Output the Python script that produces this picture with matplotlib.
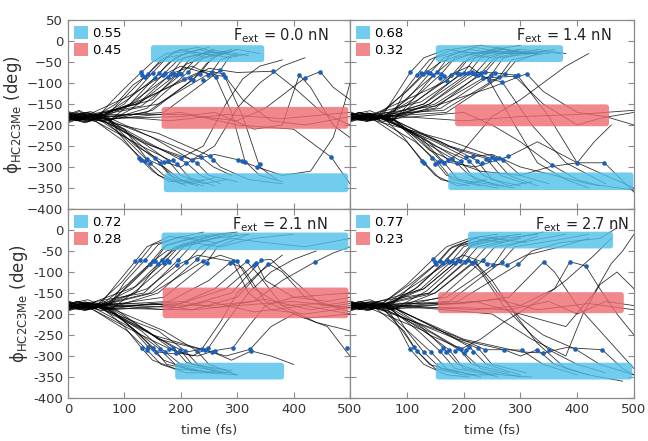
import matplotlib
matplotlib.use('Agg')
import matplotlib.pyplot as plt
from matplotlib.patches import FancyBboxPatch, Patch

# panel labels and basin populations
forces = ['0.0', '1.4', '2.1', '2.7']
frac_blue = [0.55, 0.68, 0.72, 0.77]
frac_red = [0.45, 0.32, 0.28, 0.23]

# shaded windows (t start, t end, phi low, phi high): upper blue, red, lower blue
bars_f00 = [(147, 348, -50, -10), (166, 497, -209, -157), (170, 497, -360, -315)]
bars_f14 = [(151, 375, -50, -10), (185, 456, -203, -151), (173, 499, -355, -313)]
bars_f21 = [(166, 497, -48, -6), (168, 497, -210, -137), (190, 383, -356, -316)]
bars_f27 = [(208, 463, -44, -4), (155, 482, -198, -148), (151, 497, -356, -316)]

# trajectories, each a flat list t0, phi0, t1, phi1, ...
f00_lines = [
    [0, -172, 30, -186, 60, -170, 80, -140, 110, -100, 129, -76, 150, -50, 175, -30, 210, -25, 245, -40],
    [0, -185, 20, -172, 45, -182, 85, -150, 115, -105, 137, -85, 160, -55, 190, -25, 230, -15, 270, -30],
    [0, -178, 40, -190, 75, -168, 100, -135, 142, -78, 165, -45, 200, -20, 240, -30, 280, -25],
    [0, -192, 15, -178, 50, -190, 100, -150, 150, -76, 175, -40, 210, -30, 250, -15],
    [0, -168, 35, -180, 65, -175, 105, -140, 154, -88, 180, -50, 215, -25, 260, -35, 300, -20],
    [0, -183, 30, -195, 60, -178, 110, -150, 162, -76, 190, -40, 230, -20, 265, -30],
    [0, -175, 20, -165, 45, -185, 120, -145, 172, -76, 195, -45, 240, -30, 290, -40],
    [0, -188, 40, -175, 75, -190, 115, -160, 183, -78, 205, -40, 250, -25, 300, -35],
    [0, -180, 15, -190, 50, -172, 125, -150, 192, -80, 215, -45, 255, -20, 285, -30],
    [0, -170, 35, -183, 65, -170, 130, -155, 201, -79, 225, -45, 260, -20],
    [0, -195, 30, -180, 60, -192, 140, -160, 213, -74, 240, -40, 280, -30],
    [0, -177, 20, -168, 45, -185, 140, -170, 222, -92, 245, -55, 275, -25, 320, -35],
    [0, -186, 40, -176, 75, -188, 150, -165, 234, -78, 255, -40, 300, -20, 340, -30],
    [0, -173, 15, -190, 50, -178, 160, -150, 255, -74, 270, -45, 300, -30],
    [0, -182, 35, -170, 65, -180, 170, -170, 270, -70, 285, -40, 320, -30],
    [0, -179, 30, -188, 60, -172, 150, -140, 196, -76, 210, -55, 250, -35, 290, -20],
    [0, -176, 20, -185, 45, -170, 110, -130, 168, -82, 200, -60, 240, -75, 278, -85, 310, -180, 340, -300, 370, -330],
    [0, -190, 40, -178, 75, -188, 120, -140, 187, -76, 220, -60, 262, -86, 290, -170, 314, -287, 340, -320, 380, -335],
    [0, -171, 15, -182, 50, -176, 120, -150, 206, -90, 240, -70, 275, -78, 310, -140, 360, -190, 420, -200, 500, -180],
    [0, -184, 35, -193, 65, -180, 130, -140, 216, -88, 250, -65, 300, -75, 364, -72, 400, -110, 450, -170, 500, -200],
    [0, -180, 30, -170, 60, -185, 200, -180, 260, -170, 330, -210, 380, -200, 410, -81, 430, -110, 470, -200, 500, -230],
    [0, -175, 20, -188, 45, -175, 200, -175, 300, -190, 350, -160, 420, -88, 447, -73, 470, -110, 500, -140],
    [0, -180, 40, -168, 75, -185, 90, -220, 126, -278, 150, -310, 180, -335, 220, -330],
    [0, -188, 15, -178, 50, -192, 95, -235, 136, -286, 160, -320, 200, -340, 240, -330],
    [0, -170, 35, -185, 65, -190, 100, -230, 145, -290, 170, -320, 210, -345],
    [0, -183, 30, -193, 60, -180, 110, -225, 155, -279, 180, -320, 220, -340, 260, -325],
    [0, -176, 20, -186, 45, -178, 115, -240, 163, -290, 190, -330, 230, -345],
    [0, -192, 40, -180, 75, -190, 120, -230, 178, -285, 200, -320, 240, -340, 280, -330],
    [0, -172, 15, -180, 50, -192, 130, -250, 193, -292, 215, -325, 260, -345],
    [0, -186, 35, -172, 65, -183, 140, -240, 210, -290, 235, -320, 270, -340],
    [0, -179, 30, -190, 60, -175, 150, -230, 228, -290, 250, -320, 300, -335],
    [0, -174, 20, -183, 45, -186, 160, -220, 252, -274, 270, -300, 320, -330, 380, -340],
    [0, -189, 40, -176, 75, -190, 170, -240, 236, -277, 258, -300, 290, -320],
    [0, -181, 15, -171, 50, -186, 100, -210, 140, -281, 170, -300, 200, -330, 240, -345],
    [0, -177, 35, -190, 65, -180, 120, -250, 170, -288, 200, -300, 260, -250, 300, -160, 340, -100, 380, -60, 420, -40],
    [0, -185, 30, -175, 60, -188, 130, -240, 201, -278, 240, -250, 280, -150, 310, -90, 340, -60, 380, -45],
    [0, -175, 20, -190, 45, -178, 150, -250, 220, -283, 260, -270, 302, -283, 335, -300, 380, -320, 430, -310, 470, -230, 490, -150, 500, -100],
    [0, -183, 40, -173, 75, -186, 200, -170, 300, -200, 400, -210, 467, -277, 500, -340],
    [0, -178, 15, -188, 50, -176, 180, -190, 280, -175, 380, -185, 500, -170],
]

f14_lines = [
    [0, -178, 30, -190, 60, -172, 80, -130, 106, -75, 130, -40, 170, -20, 220, -30, 260, -25],
    [0, -185, 20, -172, 45, -186, 90, -130, 118, -80, 140, -45, 180, -20, 230, -10, 290, -25],
    [0, -172, 40, -186, 75, -176, 95, -125, 129, -78, 150, -40, 190, -25, 240, -30, 300, -20],
    [0, -190, 15, -178, 50, -188, 100, -140, 141, -76, 165, -40, 210, -20, 260, -30, 330, -30],
    [0, -176, 35, -166, 65, -182, 105, -130, 153, -75, 175, -35, 220, -15, 280, -30, 340, -25],
    [0, -182, 30, -192, 60, -178, 110, -140, 161, -78, 185, -40, 235, -25, 300, -10],
    [0, -168, 20, -180, 45, -172, 115, -130, 170, -95, 200, -50, 250, -25, 320, -30, 360, -20],
    [0, -187, 40, -175, 75, -190, 120, -140, 188, -76, 210, -40, 260, -15, 310, -30],
    [0, -179, 15, -189, 50, -170, 125, -145, 200, -76, 220, -40, 270, -20, 330, -30],
    [0, -174, 35, -184, 65, -176, 130, -150, 208, -77, 230, -40, 280, -25, 350, -30],
    [0, -193, 30, -180, 60, -192, 140, -150, 220, -78, 245, -40, 300, -20, 370, -30],
    [0, -181, 20, -170, 45, -184, 150, -160, 231, -76, 255, -40, 310, -25],
    [0, -171, 40, -188, 75, -178, 150, -150, 238, -74, 260, -40, 320, -30],
    [0, -186, 15, -176, 50, -186, 160, -160, 249, -80, 270, -40, 330, -20, 380, -30],
    [0, -177, 35, -190, 65, -174, 165, -165, 263, -85, 285, -45, 340, -30],
    [0, -183, 30, -172, 60, -180, 170, -170, 273, -78, 290, -50, 330, -30],
    [0, -176, 20, -186, 45, -180, 100, -120, 135, -74, 160, -50, 200, -30, 250, -40],
    [0, -189, 40, -179, 75, -190, 110, -140, 147, -82, 175, -50, 215, -30, 270, -20],
    [0, -180, 15, -170, 50, -184, 120, -140, 178, -80, 210, -60, 244, -92, 290, -200, 330, -290, 380, -330, 420, -350],
    [0, -173, 35, -186, 65, -178, 130, -150, 194, -78, 226, -82, 268, -98, 320, -200, 380, -290, 450, -340],
    [0, -188, 30, -177, 60, -186, 140, -150, 215, -74, 256, -76, 295, -82, 350, -180, 400, -290, 450, -320, 500, -350],
    [0, -178, 20, -190, 45, -174, 150, -155, 235, -88, 290, -84, 340, -150, 400, -200, 440, -184, 500, -170],
    [0, -184, 40, -174, 75, -188, 160, -150, 250, -110, 311, -78, 340, -120, 400, -170, 450, -180, 500, -200],
    [0, -175, 15, -185, 50, -176, 200, -190, 300, -180, 400, -175, 500, -165],
    [0, -182, 35, -172, 65, -186, 200, -170, 250, -200, 300, -240, 355, -295, 400, -330, 440, -345],
    [0, -179, 30, -188, 60, -184, 95, -230, 126, -285, 150, -320, 190, -345, 240, -330],
    [0, -186, 20, -176, 45, -190, 100, -240, 131, -290, 160, -330, 210, -345],
    [0, -172, 40, -183, 75, -186, 110, -230, 144, -278, 170, -320, 220, -340, 260, -350],
    [0, -191, 15, -180, 50, -188, 115, -240, 155, -288, 180, -330, 230, -345],
    [0, -177, 35, -190, 65, -178, 125, -230, 166, -290, 190, -330, 240, -340, 290, -350],
    [0, -183, 30, -171, 60, -181, 130, -240, 180, -280, 210, -320, 260, -345],
    [0, -170, 20, -182, 45, -176, 140, -240, 195, -286, 220, -330, 270, -345],
    [0, -188, 40, -178, 75, -192, 150, -250, 210, -286, 235, -320, 280, -345, 320, -335],
    [0, -176, 15, -187, 50, -183, 160, -240, 224, -285, 250, -330, 300, -345],
    [0, -185, 35, -174, 65, -180, 170, -250, 240, -280, 265, -320, 310, -340],
    [0, -181, 30, -191, 60, -177, 175, -250, 255, -282, 280, -320, 330, -345],
    [0, -174, 20, -180, 45, -190, 180, -240, 270, -284, 300, -320, 350, -340],
    [0, -190, 40, -182, 75, -186, 120, -230, 160, -285, 220, -300, 279, -275, 330, -240, 400, -290, 430, -240, 460, -200],
    [0, -180, 15, -170, 50, -182, 150, -240, 204, -277, 250, -270, 300, -300, 360, -320, 420, -340, 500, -355],
    [0, -178, 35, -188, 65, -170, 140, -260, 188, -290, 230, -310, 300, -320, 350, -300, 400, -290, 448, -290, 500, -360],
    [0, -186, 30, -176, 60, -184, 130, -230, 173, -284, 200, -260, 250, -180, 300, -140, 340, -100, 380, -60, 420, -30],
]

f21_lines = [
    [0, -178, 30, -190, 60, -172, 85, -130, 119, -75, 140, -40, 180, -15, 230, -25],
    [0, -185, 20, -172, 45, -186, 95, -125, 128, -72, 150, -35, 190, -20, 240, -5],
    [0, -172, 40, -186, 75, -176, 100, -125, 137, -71, 160, -35, 200, -15, 260, -30],
    [0, -190, 15, -178, 50, -188, 105, -130, 145, -80, 170, -40, 220, -20, 280, -10],
    [0, -176, 35, -166, 65, -182, 110, -130, 154, -73, 175, -35, 230, -15, 300, -5],
    [0, -182, 30, -192, 60, -178, 115, -140, 166, -72, 190, -40, 240, -25, 290, -10],
    [0, -168, 20, -180, 45, -172, 120, -135, 175, -71, 200, -35, 250, -15],
    [0, -187, 40, -175, 75, -190, 125, -140, 180, -76, 205, -40, 260, -20, 320, -10],
    [0, -179, 15, -189, 50, -170, 135, -150, 195, -72, 220, -35, 270, -15],
    [0, -174, 35, -184, 65, -176, 145, -150, 210, -77, 235, -40, 290, -20, 350, -30, 420, -40, 460, -30, 500, -20],
    [0, -193, 30, -180, 60, -192, 160, -150, 229, -70, 250, -40, 300, -10],
    [0, -181, 20, -170, 45, -184, 170, -160, 246, -78, 265, -40, 320, -10],
    [0, -171, 40, -188, 75, -178, 100, -140, 150, -75, 175, -50, 220, -30, 270, -40, 330, -20, 400, -10],
    [0, -186, 15, -176, 50, -186, 120, -150, 160, -82, 185, -50, 230, -25, 270, -10],
    [0, -177, 35, -190, 65, -174, 140, -140, 193, -84, 230, -60, 270, -70, 292, -75, 320, -150, 360, -190, 420, -200, 500, -185],
    [0, -183, 30, -172, 60, -180, 150, -150, 240, -74, 270, -60, 299, -73, 330, -140, 380, -180, 450, -175, 500, -195],
    [0, -176, 20, -186, 45, -180, 180, -170, 250, -120, 287, -78, 310, -90, 350, -170, 420, -210, 500, -200],
    [0, -189, 40, -179, 75, -190, 190, -180, 260, -140, 317, -75, 340, -110, 380, -180, 440, -220, 500, -240],
    [0, -180, 15, -170, 50, -184, 200, -175, 280, -140, 334, -78, 350, -120, 400, -160, 460, -170, 500, -160],
    [0, -173, 35, -186, 65, -178, 200, -185, 290, -150, 343, -72, 360, -70, 400, -120, 450, -180, 500, -170],
    [0, -188, 30, -177, 60, -186, 220, -190, 300, -160, 355, -80, 380, -100, 420, -160, 480, -185, 500, -180],
    [0, -178, 20, -190, 45, -174, 250, -180, 330, -170, 380, -120, 438, -76, 470, -55, 500, -40],
    [0, -184, 40, -174, 75, -188, 150, -175, 220, -190, 300, -180, 400, -170, 500, -185],
    [0, -175, 15, -185, 50, -176, 170, -190, 250, -170, 330, -195, 420, -180, 500, -200],
    [0, -182, 35, -172, 65, -186, 200, -170, 260, -185, 350, -165, 430, -190, 500, -175],
    [0, -179, 30, -188, 60, -184, 100, -230, 131, -282, 150, -310, 190, -330, 230, -335],
    [0, -186, 20, -176, 45, -190, 105, -240, 140, -285, 165, -320, 210, -340, 260, -340],
    [0, -172, 40, -183, 75, -186, 110, -230, 142, -278, 170, -310, 220, -335, 290, -340],
    [0, -191, 15, -180, 50, -188, 115, -235, 151, -280, 175, -320, 230, -335],
    [0, -177, 35, -190, 65, -178, 120, -240, 163, -284, 190, -320, 250, -340, 300, -345],
    [0, -183, 30, -171, 60, -181, 130, -240, 172, -290, 200, -320, 260, -335],
    [0, -170, 20, -182, 45, -176, 140, -240, 187, -280, 210, -315, 270, -340],
    [0, -188, 40, -178, 75, -192, 150, -250, 199, -285, 220, -320, 290, -335],
    [0, -176, 15, -187, 50, -183, 160, -240, 207, -287, 230, -320, 280, -340],
    [0, -185, 35, -174, 65, -180, 170, -240, 228, -287, 250, -320, 300, -345],
    [0, -181, 30, -191, 60, -177, 120, -240, 156, -290, 190, -295, 237, -284, 270, -220, 300, -150, 340, -100, 380, -60],
    [0, -174, 20, -180, 45, -190, 130, -250, 180, -283, 220, -300, 249, -281, 280, -220, 320, -150, 360, -100, 400, -70, 440, -50],
    [0, -190, 40, -182, 75, -186, 140, -240, 192, -292, 230, -300, 261, -287, 293, -280, 320, -230, 350, -180, 400, -160, 500, -150],
    [0, -180, 15, -170, 50, -182, 150, -250, 243, -286, 280, -300, 323, -284, 360, -230, 400, -200, 460, -230, 494, -290, 500, -300],
    [0, -178, 35, -188, 65, -170, 160, -260, 255, -290, 290, -310, 325, -288, 360, -300, 400, -320],
]

f27_lines = [
    [0, -178, 30, -190, 60, -172, 100, -130, 146, -70, 170, -40, 210, -20, 260, -10],
    [0, -185, 20, -172, 45, -186, 105, -130, 152, -80, 175, -45, 220, -20, 270, -30],
    [0, -172, 40, -186, 75, -176, 110, -130, 158, -74, 180, -40, 230, -15, 280, -25],
    [0, -190, 15, -178, 50, -188, 115, -140, 164, -78, 190, -40, 240, -20, 300, -10],
    [0, -176, 35, -166, 65, -182, 120, -135, 170, -72, 195, -35, 250, -20, 310, -30],
    [0, -182, 30, -192, 60, -178, 125, -140, 179, -74, 200, -40, 260, -15],
    [0, -168, 20, -180, 45, -172, 130, -140, 185, -78, 210, -40, 270, -20, 330, -10],
    [0, -187, 40, -175, 75, -190, 135, -145, 194, -74, 215, -35, 280, -15],
    [0, -179, 15, -189, 50, -170, 140, -150, 202, -76, 225, -40, 290, -20, 340, -5],
    [0, -174, 35, -184, 65, -176, 150, -150, 215, -78, 240, -40, 300, -20],
    [0, -193, 30, -180, 60, -192, 160, -160, 235, -71, 255, -40, 320, -25, 380, -10],
    [0, -181, 20, -170, 45, -184, 170, -160, 252, -84, 275, -40, 330, -15],
    [0, -171, 40, -188, 75, -178, 175, -170, 267, -76, 290, -40, 360, -25, 420, -10],
    [0, -186, 15, -176, 50, -186, 190, -170, 296, -82, 320, -50, 370, -30, 440, -20, 470, 5],
    [0, -177, 35, -190, 65, -174, 115, -130, 174, -76, 200, -60, 241, -80, 276, -84, 310, -60, 370, -40, 420, -20],
    [0, -183, 30, -172, 60, -180, 130, -140, 190, -72, 220, -76, 250, -120, 290, -200, 330, -270, 380, -330, 420, -345],
    [0, -176, 20, -186, 45, -180, 140, -150, 208, -72, 230, -100, 270, -180, 320, -250, 351, -286, 400, -320, 450, -340],
    [0, -189, 40, -179, 75, -190, 150, -150, 220, -76, 260, -150, 300, -210, 340, -250, 396, -283, 440, -320, 500, -345],
    [0, -180, 15, -170, 50, -184, 200, -175, 280, -160, 341, -76, 360, -100, 400, -180, 440, -240, 480, -300, 500, -330],
    [0, -173, 35, -186, 65, -178, 220, -190, 300, -180, 360, -140, 387, -76, 400, -80, 415, -86, 440, -140, 470, -200, 500, -250],
    [0, -188, 30, -177, 60, -186, 200, -185, 280, -190, 350, -170, 400, -200, 450, -170, 500, -180],
    [0, -178, 20, -190, 45, -174, 180, -175, 260, -165, 330, -190, 420, -175, 500, -190],
    [0, -184, 40, -174, 75, -188, 220, -170, 300, -200, 380, -230, 430, -150, 460, -80, 480, -50, 500, -10],
    [0, -175, 15, -185, 50, -176, 250, -200, 320, -260, 380, -300, 410, -200, 440, -130, 470, -100, 500, -140],
    [0, -179, 35, -188, 65, -184, 85, -230, 106, -284, 130, -320, 170, -345, 210, -350],
    [0, -186, 30, -176, 60, -190, 90, -235, 112, -278, 140, -320, 190, -340],
    [0, -172, 20, -183, 45, -186, 95, -240, 118, -289, 150, -330, 200, -345, 260, -345],
    [0, -191, 40, -180, 75, -188, 100, -240, 130, -291, 160, -330, 220, -345],
    [0, -177, 15, -190, 50, -178, 110, -250, 142, -290, 170, -330, 230, -350],
    [0, -183, 35, -171, 65, -181, 120, -240, 158, -288, 185, -330, 250, -345],
    [0, -170, 30, -182, 60, -176, 125, -230, 164, -280, 190, -320, 260, -350],
    [0, -188, 20, -178, 45, -192, 130, -240, 175, -286, 200, -330, 270, -345, 320, -350],
    [0, -176, 40, -187, 75, -183, 140, -240, 190, -280, 215, -320, 280, -340],
    [0, -185, 15, -174, 50, -180, 150, -250, 200, -292, 230, -330, 300, -350],
    [0, -181, 35, -191, 65, -177, 160, -240, 210, -278, 240, -320, 300, -345],
    [0, -174, 30, -180, 60, -190, 170, -250, 226, -282, 250, -320, 310, -340],
    [0, -190, 20, -182, 45, -186, 180, -250, 238, -285, 270, -285, 302, -286, 340, -320, 400, -345],
    [0, -180, 40, -170, 75, -182, 190, -260, 271, -285, 300, -300, 330, -285, 360, -320, 420, -345, 480, -360],
    [0, -178, 15, -188, 50, -170, 200, -260, 300, -290, 340, -293, 380, -280, 444, -285, 480, -330, 500, -345],
    [0, -186, 35, -176, 65, -184, 140, -250, 196, -283, 230, -260, 270, -220, 330, -170, 380, -120, 430, -60, 460, -20],
]

# transition markers (t, phi)
f00_dot_t = [129, 132, 137, 142, 150, 154, 162, 168, 172, 178, 183, 187, 192, 196, 201, 206, 213, 216, 222, 234,
             240, 249, 255, 262, 270, 275, 278, 364, 410, 420, 447,
             126, 130, 136, 140, 145, 155, 163, 170, 178, 186, 193, 201, 210, 220, 228, 236, 252, 257, 302, 308,
             314, 335, 340, 467]
f00_dot_phi = [-75, -80, -85, -78, -76, -88, -76, -82, -76, -86, -78, -76, -80, -76, -79, -90, -74, -88, -92, -78,
               -92, -82, -74, -86, -70, -78, -85, -72, -81, -88, -73,
               -278, -283, -286, -281, -290, -279, -290, -288, -285, -283, -292, -278, -290, -283, -290, -277, -274,
               -284, -283, -286, -287, -300, -294, -277]
f14_dot_t = [106, 118, 125, 129, 135, 141, 147, 153, 158, 161, 165, 170, 178, 188, 194, 200, 208, 215, 220, 226,
             231, 235, 238, 244, 249, 256, 263, 268, 273, 290, 295, 311,
             126, 131, 144, 150, 155, 160, 166, 173, 180, 188, 195, 204, 210, 216, 224, 232, 240, 245, 250, 255,
             262, 270, 279, 355, 400, 448]
f14_dot_phi = [-75, -80, -76, -78, -74, -76, -82, -75, -88, -78, -84, -95, -80, -76, -78, -76, -77, -74, -78, -82,
               -76, -88, -74, -92, -80, -76, -85, -98, -78, -84, -82, -78,
               -285, -290, -278, -292, -288, -285, -290, -284, -280, -290, -286, -277, -286, -274, -285, -290, -280,
               -284, -276, -282, -278, -284, -275, -295, -290, -290]
f21_dot_t = [119, 128, 137, 145, 150, 154, 160, 166, 170, 175, 180, 193, 195, 210, 229, 240, 246, 287, 292, 299,
             317, 330, 334, 343, 355, 438,
             131, 140, 142, 151, 156, 163, 172, 180, 187, 192, 199, 207, 228, 237, 243, 249, 255, 261, 293, 323,
             325, 494]
f21_dot_phi = [-75, -72, -71, -80, -75, -73, -82, -72, -78, -71, -76, -84, -72, -77, -70, -74, -78, -78, -75, -73,
               -75, -84, -78, -72, -80, -76,
               -282, -285, -278, -280, -290, -284, -290, -283, -280, -292, -285, -287, -287, -284, -286, -281, -290,
               -287, -280, -284, -288, -282]
f27_dot_t = [146, 150, 152, 158, 164, 170, 174, 179, 185, 190, 194, 202, 208, 215, 220, 235, 241, 252, 267, 276,
             296, 341, 387, 415,
             106, 112, 118, 130, 142, 158, 164, 169, 175, 185, 190, 196, 200, 205, 210, 217, 226, 238, 271, 302,
             330, 340, 351, 396, 444]
f27_dot_phi = [-70, -76, -80, -74, -78, -72, -76, -74, -78, -72, -74, -76, -72, -78, -76, -71, -80, -84, -76, -84,
               -82, -76, -76, -86,
               -284, -278, -289, -291, -290, -288, -280, -290, -286, -288, -280, -283, -292, -286, -278, -290, -282,
               -285, -285, -286, -285, -293, -286, -283, -285]

lines_all = [f00_lines, f14_lines, f21_lines, f27_lines]
bars_all = [bars_f00, bars_f14, bars_f21, bars_f27]
dots_all = [(f00_dot_t, f00_dot_phi), (f14_dot_t, f14_dot_phi),
            (f21_dot_t, f21_dot_phi), (f27_dot_t, f27_dot_phi)]

blue = '#4fc0ea'
red = '#ee6a70'
dot_color = '#1b5fb8'
frame = '#8a8a8a'

fig = plt.figure(figsize=(6.48, 4.41), dpi=100)
positions = [[0.1049, 0.5261, 0.4352, 0.4286], [0.5401, 0.5261, 0.4383, 0.4286],
             [0.1049, 0.0975, 0.4352, 0.4286], [0.5401, 0.0975, 0.4383, 0.4286]]
text_x = [0.925, 0.92, 0.922, 0.985]

for i in range(4):
    ax = fig.add_axes(positions[i])
    for ln in lines_all[i]:
        ax.plot(ln[0::2], ln[1::2], color='black', lw=0.6, alpha=0.8, zorder=2)
    for j, (t0, t1, lo, hi) in enumerate(bars_all[i]):
        c = red if j == 1 else blue
        ax.add_patch(FancyBboxPatch((t0, lo), t1 - t0, hi - lo,
                                    boxstyle='round,pad=0,rounding_size=5', mutation_aspect=1.3,
                                    fc=c, ec='none', alpha=0.8, zorder=3))
    ax.plot(dots_all[i][0], dots_all[i][1], 'o', ms=3.3, color=dot_color, mec='none', zorder=4)

    ax.set_xlim(0, 500)
    ax.set_ylim(-400, 50)
    ax.set_xticks(range(0, 501, 100))
    ax.set_yticks(range(-400, 51, 50))
    ax.tick_params(direction='in', top=True, right=True, length=4, color=frame,
                   labelsize=9.5, labelcolor='#333333')
    for s in ax.spines.values():
        s.set_color(frame)
        s.set_linewidth(0.9)

    if i < 2:
        ax.tick_params(labelbottom=False)
    else:
        ax.set_xlabel('time (fs)', fontsize=9.5, color='#333333', labelpad=6)
    if i % 2 == 1:
        ax.tick_params(labelleft=False)
    else:
        ax.set_ylabel('ϕ$_{\\mathregular{HC2C3Me}}$ (deg)', fontsize=12, color='#333333', labelpad=2)
    if i == 2:
        ax.set_yticklabels([str(v) for v in range(-400, 1, 50)] + [''])
    if i == 3:
        ax.set_xticklabels([''] + [str(v) for v in range(100, 501, 100)])

    handles = [Patch(fc=blue, alpha=0.8, ec='none'), Patch(fc=red, alpha=0.8, ec='none')]
    ax.legend(handles, ['%.2f' % frac_blue[i], '%.2f' % frac_red[i]], loc='upper left',
              frameon=False, fontsize=9.5, handlelength=1.1, handleheight=1.1,
              handletextpad=0.3, labelspacing=0.25, borderaxespad=0.25, borderpad=0.2)
    ax.text(text_x[i], 0.915, 'F$_{\\mathregular{ext}}$ = %s nN' % forces[i], transform=ax.transAxes,
            ha='right', va='center', fontsize=10.5, color='#222222', zorder=5)

fig.savefig('out.png', dpi=100)
